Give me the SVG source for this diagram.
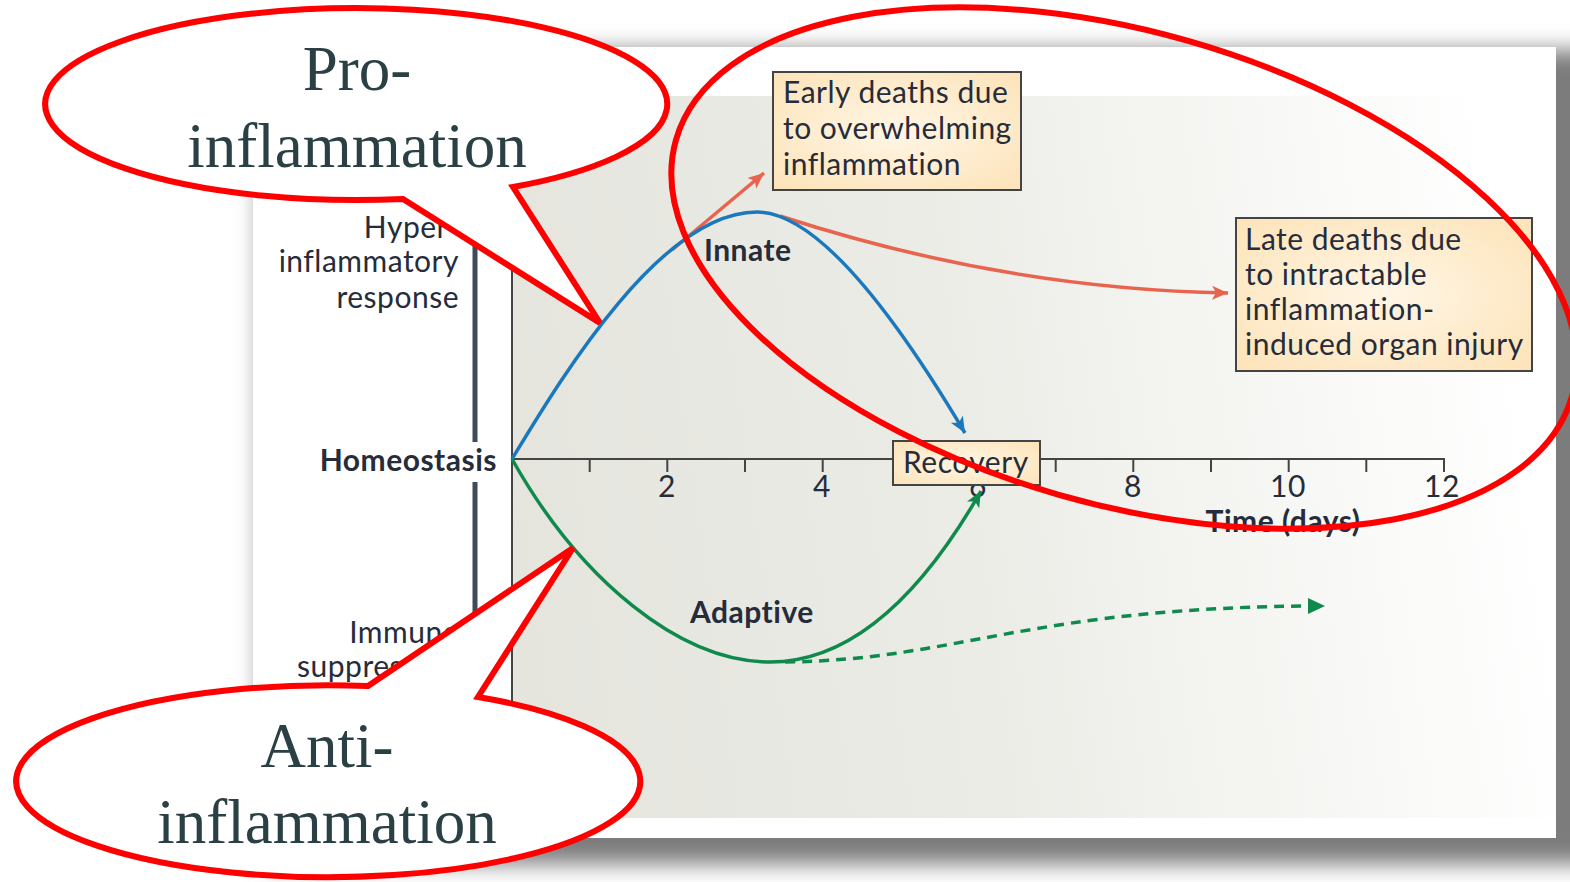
<svg xmlns="http://www.w3.org/2000/svg" width="1570" height="882" viewBox="0 0 1570 882">
<defs>
<filter id="shadow" x="-5%" y="-8%" width="110%" height="116%"><feGaussianBlur stdDeviation="11"/></filter>
<linearGradient id="plotbg" gradientUnits="userSpaceOnUse" x1="512" y1="520" x2="1520" y2="380">
<stop offset="0" stop-color="#e5e5de"/>
<stop offset="0.45" stop-color="#ecece7"/>
<stop offset="0.8" stop-color="#f8f8f6"/>
<stop offset="1" stop-color="#ffffff"/>
</linearGradient>
<radialGradient id="boxbg" cx="0.5" cy="0.5" r="0.7">
<stop offset="0" stop-color="#fff6e6"/>
<stop offset="1" stop-color="#fde3b8"/>
</radialGradient>
<marker id="arrOrange" markerUnits="userSpaceOnUse" markerWidth="20" markerHeight="16" refX="16" refY="7" orient="auto">
<path d="M0,0 L16,7 L0,14 L4,7 Z" fill="#e8644e"/>
</marker>
<marker id="arrBlue" markerUnits="userSpaceOnUse" markerWidth="20" markerHeight="16" refX="16" refY="7" orient="auto">
<path d="M0,0 L16,7 L0,14 L4,7 Z" fill="#1b78bd"/>
</marker>
<marker id="arrGreen" markerUnits="userSpaceOnUse" markerWidth="20" markerHeight="16" refX="16" refY="7" orient="auto">
<path d="M0,0 L16,7 L0,14 L4,7 Z" fill="#0f8a4c"/>
</marker>
<marker id="arrGreenSolid" markerUnits="userSpaceOnUse" markerWidth="22" markerHeight="18" refX="17" refY="8" orient="auto">
<path d="M0,0 L17,8 L0,16 Z" fill="#0f8a4c"/>
</marker>
</defs>
<style>
.lbl{font-family:Lato,"Noto Sans",sans-serif;font-size:30px;letter-spacing:0.5px;fill:#262c3a}
.bold{font-weight:bold}
.right{text-anchor:end}
.mid{text-anchor:middle}
.big{font-family:"Liberation Serif","Times New Roman",serif;font-size:63px;fill:#2a4045;text-anchor:middle}
.box{fill:url(#boxbg);stroke:#444;stroke-width:2}
.callout{fill:#ffffff;stroke:#ff0000;stroke-width:6;stroke-linejoin:miter}
.axis{stroke:#444;stroke-width:2;fill:none}
.curve{fill:none;stroke-width:3.5}
</style>
<rect x="0" y="0" width="1570" height="882" fill="#ffffff"/>
<g id="frame">
<rect x="260" y="50" width="1342" height="814" fill="#7c7c7c" filter="url(#shadow)"/>
<rect x="253" y="47" width="1303" height="791" fill="#ffffff"/>
<rect x="512" y="96" width="1044" height="722" fill="url(#plotbg)"/>
</g>
<g id="axes">
<line x1="475" y1="100" x2="475" y2="442" stroke="#3d4c58" stroke-width="5"/>
<line x1="475" y1="482" x2="475" y2="815" stroke="#3d4c58" stroke-width="5"/>
<line class="axis" x1="512" y1="96" x2="512" y2="818"/>
<line class="axis" x1="512" y1="459" x2="1445" y2="459"/>
<path class="axis" d="M589.7,459v13 M667.3,459v13 M745,459v13 M822.7,459v13 M900.3,459v13 M978,459v13 M1055.7,459v13 M1133.3,459v13 M1211,459v13 M1288.7,459v13 M1366.3,459v13 M1444,459v13"/>
<g class="lbl mid">
<text x="667" y="497">2</text>
<text x="822" y="497">4</text>
<text x="978" y="497">6</text>
<text x="1133" y="497">8</text>
<text x="1288" y="497">10</text>
<text x="1442" y="497">12</text>
</g>
<text class="lbl bold mid" x="1283" y="532">Time (days)</text>
</g>
<g id="axis-labels">
<text class="lbl right" x="459" y="238">Hyper-</text>
<text class="lbl right" x="459" y="272">inflammatory</text>
<text class="lbl right" x="459" y="308">response</text>
<text class="lbl bold right" x="497" y="471">Homeostasis</text>
<text class="lbl right" x="459" y="643">Immune</text>
<text class="lbl right" x="459" y="677">suppression</text>
</g>
<g id="connectors">
<path class="curve" stroke="#e8644e" d="M672,250 L764,173" marker-end="url(#arrOrange)"/>
<path class="curve" stroke="#e8644e" d="M780,216 C900,255 1050,290 1228,293" marker-end="url(#arrOrange)"/>
<path class="curve" stroke="#1b78bd" d="M512,459 C560,380 660,212 757,212 C810,212 880,290 965,433" marker-end="url(#arrBlue)"/>
<path class="curve" stroke="#0f8a4c" d="M512,459 C580,580 680,662 770,662 C860,662 930,580 981,491" marker-end="url(#arrGreen)"/>
<path class="curve" stroke="#0f8a4c" stroke-width="4" stroke-dasharray="10 7" d="M785,662 C960,660 1030,606 1325,606" marker-end="url(#arrGreenSolid)"/>
</g>
<g id="curve-labels">
<text class="lbl bold" x="704" y="261">Innate</text>
<text class="lbl bold" x="690" y="623">Adaptive</text>
</g>
<g id="box-early">
<rect class="box" x="773" y="72" width="248" height="118"/>
<text class="lbl" x="783" y="103">Early deaths due</text>
<text class="lbl" x="783" y="139">to overwhelming</text>
<text class="lbl" x="783" y="175">inflammation</text>
</g>
<g id="box-late">
<rect class="box" x="1236" y="218" width="296" height="153"/>
<text class="lbl" x="1245" y="250">Late deaths due</text>
<text class="lbl" x="1245" y="285">to intractable</text>
<text class="lbl" x="1245" y="320">inflammation-</text>
<text class="lbl" x="1245" y="355">induced organ injury</text>
</g>
<g id="box-recovery">
<rect class="box" x="893" y="441" width="147" height="44"/>
<text class="lbl" x="903" y="473">Recovery</text>
</g>
<g id="callout-pro">
<path class="callout" d="M403,199 L600,323 L513,187 A311 96 0 1 0 403,199 Z"/>
<text class="big" x="357" y="90">Pro-</text>
<text class="big" x="357" y="167">inflammation</text>
</g>
<g id="callout-anti">
<path class="callout" d="M368,686 L573,548 L478,697 A312 96 0 1 1 368,686 Z"/>
<text class="big" x="327" y="767">Anti-</text>
<text class="big" x="327" y="843">inflammation</text>
</g>
<g id="highlight">
<ellipse cx="1124" cy="268" rx="466" ry="236" transform="rotate(16 1124 268)" fill="none" stroke="#ff0000" stroke-width="6"/>
</g>
</svg>
